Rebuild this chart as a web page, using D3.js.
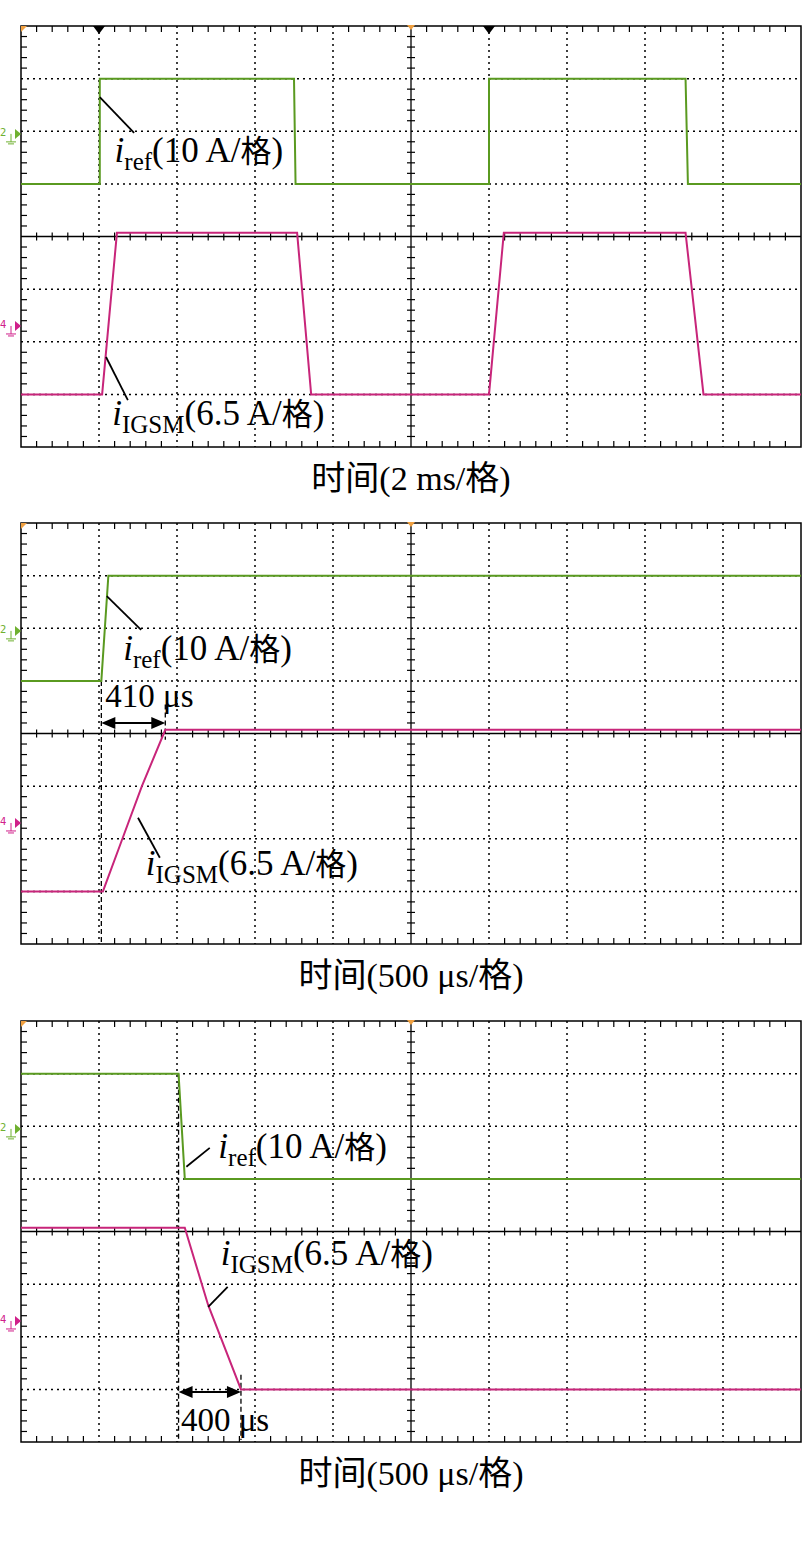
<!DOCTYPE html><html><head><meta charset="utf-8">
<script src="https://cdn.jsdelivr.net/npm/d3@7/dist/d3.min.js"></script>
<style>body{margin:0;background:#fff}</style></head><body>
<script>
const panelTops=[26,523,1021];
const axisTitles=["时间(2 ms/格)","时间(500 μs/格)","时间(500 μs/格)"];
const refT=[[0,1.01,1.01,3.5,3.52,6.0,6.0,8.52,8.55,10],[0,1.03,1.12,10],[0,2.02,2.1,10]];
const refV=[[5,5,7,7,5,5,7,7,5,5],[5,5,7,7],[7,7,5,5]];
const igT=[[0,1.04,1.23,3.54,3.72,6,6.0,6.19,8.52,8.75,10],[0,1.05,1.3,1.55,1.85,10],[0,2.1,2.4,2.82,10]];
const igV=[[1,1,4.07,4.07,1,1,1,4.07,4.07,1,1],[1,1,2,3,4.07,4.07],[4.07,4.07,2.6,1,1]];
const refLabels=[[1.2,5.41],[1.31,5.4],[2.53,5.4]];
const igLabels=[[1.17,0.41],[1.6,1.31],[2.56,3.36]];
const leaders=[[[1.01,6.65,1.45,5.97],[1.09,1.71,1.37,0.89]],[[1.10,6.61,1.54,5.97],[1.5,2.4,1.78,1.64]],[[2.12,5.23,2.42,5.59],[2.4,2.57,2.65,2.95]]];
const measures=[null,{t0:1.03,t1:1.85,y:4.2,text:"410 μs",tx:1.08,ty:4.5,dashTop:5,d1:[4.55,3.88]},{t0:2.02,t1:2.82,y:0.95,text:"400 μs",tx:2.05,ty:0.21,dashTop:7,d1:[1.28,0.04]}];
const trig=[[1,6],[],[]];
const W=780,H=421,L=21;
const x=d3.scaleLinear().domain([0,10]).range([0,W]);
const y=d3.scaleLinear().domain([0,8]).range([H,0]);
const svg=d3.select("body").append("svg").attr("width",803).attr("height",1556);
panelTops.forEach((top,p)=>{
 const g=svg.append("g").attr("transform",`translate(${L},${top})`);
 for(let i=1;i<10;i++) if(i!=5) g.append("line").attr("x1",x(i)).attr("x2",x(i)).attr("y1",0).attr("y2",H).attr("stroke","#000").attr("stroke-width",1.5).attr("stroke-dasharray","2,4");
 for(let j=1;j<8;j++) if(j!=4) g.append("line").attr("y1",y(j)).attr("y2",y(j)).attr("x1",0).attr("x2",W).attr("stroke","#000").attr("stroke-width",1.5).attr("stroke-dasharray","2,4");
 g.append("line").attr("x1",x(5)).attr("x2",x(5)).attr("y1",0).attr("y2",H).attr("stroke","#000").attr("stroke-width",1.3);
 g.append("line").attr("y1",y(4)).attr("y2",y(4)).attr("x1",0).attr("x2",W).attr("stroke","#000").attr("stroke-width",1.3);
 for(let k=1;k<50;k++){ if(k%5==0) continue; const xx=x(k/5);
  g.append("line").attr("x1",xx).attr("x2",xx).attr("y1",0).attr("y2",6).attr("stroke","#000").attr("stroke-width",1.2);
  g.append("line").attr("x1",xx).attr("x2",xx).attr("y1",H-6).attr("y2",H).attr("stroke","#000").attr("stroke-width",1.2);
  g.append("line").attr("x1",xx).attr("x2",xx).attr("y1",y(4)-4).attr("y2",y(4)+4).attr("stroke","#000").attr("stroke-width",1.2);}
 for(let k=1;k<40;k++){ if(k%5==0) continue; const yy=y(k/5);
  g.append("line").attr("x1",0).attr("x2",6).attr("y1",yy).attr("y2",yy).attr("stroke","#000").attr("stroke-width",1.2);
  g.append("line").attr("x1",x(5)-4).attr("x2",x(5)+4).attr("y1",yy).attr("y2",yy).attr("stroke","#000").attr("stroke-width",1.2);}
 g.append("rect").attr("width",W).attr("height",H).attr("fill","none").attr("stroke","#000").attr("stroke-width",1.5);
 g.append("path").attr("d",`M${x(5)-4},-1L${x(5)+4},-1L${x(5)},4Z`).attr("fill","#f0a040");
 g.append("path").attr("d","M0,0L6,0L0,6Z").attr("fill","#f0a040");
 trig[p].forEach(t=>g.append("path").attr("d",`M${x(t)-6},0L${x(t)+6},0L${x(t)},8Z`).attr("fill","#000"));
 [[5.95,"#6fb030","2"],[2.3,"#d0208a","4"]].forEach(([lv,c,n])=>{const yy=y(lv);
  g.append("path").attr("d",`M-6,${yy-5}L0,${yy}L-6,${yy+5}Z`).attr("fill",c);
  g.append("text").attr("x",-21).attr("y",yy+2).attr("font-size",10).attr("fill",c).attr("font-family","DejaVu Sans").text(n);
  g.append("path").attr("d",`M-10,${yy}L-10,${yy+8}M-15,${yy+8}L-5,${yy+8}M-13,${yy+10}L-7,${yy+10}`).attr("stroke",c).attr("fill","none");});
 const line=d3.line().x(d=>x(d[0])).y(d=>y(d[1]));
 if(measures[p]){const m=measures[p];
  g.append("line").attr("x1",x(m.t0)).attr("x2",x(m.t0)).attr("y1",y(m.dashTop)).attr("y2",H).attr("stroke","#000").attr("stroke-width",1.3).attr("stroke-dasharray","5,3");
  g.append("line").attr("x1",x(m.t1)).attr("x2",x(m.t1)).attr("y1",y(m.d1[0])).attr("y2",y(m.d1[1])).attr("stroke","#000").attr("stroke-width",1.3).attr("stroke-dasharray","5,3");}
 g.append("path").attr("d",line(refT[p].map((t,i)=>[t,refV[p][i]]))).attr("fill","none").attr("stroke","#5a9a20").attr("stroke-width",2);
 g.append("path").attr("d",line(igT[p].map((t,i)=>[t,igV[p][i]]))).attr("fill","none").attr("stroke","#c8257a").attr("stroke-width",2);
 if(measures[p]){const m=measures[p],yy=y(m.y);
  g.append("line").attr("x1",x(m.t0)+10).attr("x2",x(m.t1)-10).attr("y1",yy).attr("y2",yy).attr("stroke","#000").attr("stroke-width",2);
  g.append("path").attr("d",`M${x(m.t0)},${yy}L${x(m.t0)+14},${yy-6}L${x(m.t0)+14},${yy+6}Z M${x(m.t1)},${yy}L${x(m.t1)-14},${yy-6}L${x(m.t1)-14},${yy+6}Z`).attr("fill","#000");
  g.append("text").attr("x",x(m.tx)).attr("y",y(m.ty)).attr("font-family","Liberation Serif").attr("font-size",33).text(m.text);}
 const lab=(t,v,sub,scale)=>{
  const tx=g.append("text").attr("x",x(t)).attr("y",y(v)).attr("font-family","Liberation Serif").attr("font-size",35);
  tx.append("tspan").attr("font-style","italic").text("i");
  tx.append("tspan").attr("font-size",25).attr("dy",8).text(sub);
  tx.append("tspan").attr("dy",-8).text("("+scale+" A/");
  tx.append("tspan").attr("font-family","Noto Sans CJK SC").attr("font-size",31).text("格");
  tx.append("tspan").text(")");};
 lab(refLabels[p][0],refLabels[p][1],"ref","10");
 lab(igLabels[p][0],igLabels[p][1],"IGSM","6.5");
 leaders[p].forEach(l=>g.append("line").attr("x1",x(l[0])).attr("y1",y(l[1])).attr("x2",x(l[2])).attr("y2",y(l[3])).attr("stroke","#000").attr("stroke-width",1.8));
 svg.append("text").attr("x",L+W/2).attr("y",top+H+43).attr("text-anchor","middle").attr("font-family","Liberation Serif, Noto Sans CJK SC").attr("font-size",34).text(axisTitles[p]);
});
</script></body></html>
